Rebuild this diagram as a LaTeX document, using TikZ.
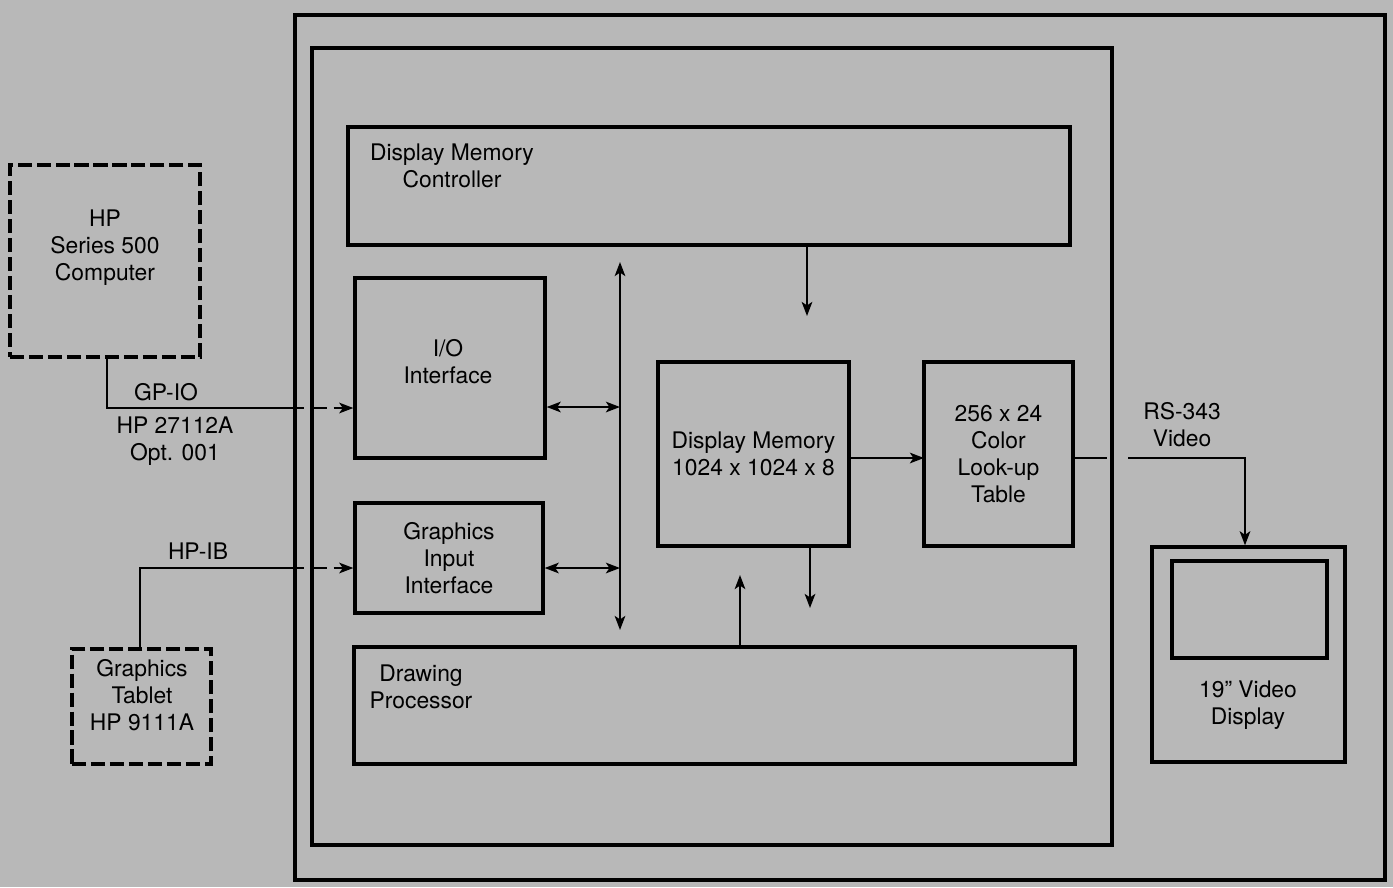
\documentclass[tikz,border=0pt]{standalone}
\usepackage{fontspec}
\setmainfont{TeX Gyre Heros}
\usetikzlibrary{arrows.meta}

\definecolor{paper}{gray}{0.72}
\tikzset{
  blockbox/.style={draw, line width=1.9pt, inner sep=0pt, align=center},
  dashbox/.style={blockbox, dash pattern=on 8pt off 2.8pt},
  lbl/.style={align=center, inner sep=0pt},
  link/.style={line width=1.3pt},
  tip/.style={-{Stealth[length=8pt,width=6pt,inset=2pt]}},
  twotip/.style={{Stealth[length=8pt,width=6pt,inset=2pt]}-{Stealth[length=8pt,width=6pt,inset=2pt]}},
}

\begin{document}
\begin{tikzpicture}[x=0.02cm, y=-0.02cm, font=\fontsize{13}{15.4}\selectfont]
    \fill[paper] (0,0) rectangle (1393,887);
    \useasboundingbox (0,0) rectangle (1393,887);

    % frames of the system
    \draw[line width=1.9pt] (295,15) rectangle (1385,880);
    \draw[line width=1.9pt] (312,48) rectangle (1112,845);

    % blocks inside
    \node[blockbox, minimum width=14.44cm, minimum height=2.36cm] (dmc) at (709,186) {};
    \node[lbl] (dmctext) at (452,166) {Display Memory\\Controller};
    \node[blockbox, minimum width=3.8cm, minimum height=3.6cm] (io) at (450,368) {};
    \node[lbl] (iotext) at (448,362) {I/O\\Interface};
    \node[blockbox, minimum width=3.76cm, minimum height=2.2cm] (gii) at (449,558) {Graphics\\Input\\Interface};
    \node[blockbox, minimum width=3.82cm, minimum height=3.68cm] (dm) at (753.5,454) {Display Memory\\1024 x 1024 x 8};
    \node[blockbox, minimum width=2.98cm, minimum height=3.68cm] (lut) at (998.5,454) {256 x 24\\Color\\Look-up\\Table};
    \node[blockbox, minimum width=14.42cm, minimum height=2.34cm] (dp) at (714.5,705.5) {};
    \node[lbl] (dptext) at (421,687) {Drawing\\Processor};

    % outside devices
    \node[dashbox, minimum width=3.8cm, minimum height=3.84cm] (hp) at (105,261) {};
    \node[lbl] (hptext) at (105,248) {HP\\Series 500\\Computer};
    \node[dashbox, minimum width=2.78cm, minimum height=2.3cm] (tab) at (141.5,706.5) {};
    \node[lbl] (tabtext) at (142,695) {Graphics\\Tablet\\HP 9111A};
    \node[blockbox, minimum width=3.86cm, minimum height=4.3cm] (vid) at (1248.5,654.5) {};
    \node[blockbox, minimum width=3.1cm, minimum height=1.94cm] (scr) at (1249.5,609.5) {};
    \node[lbl] (vidtext) at (1248,705) {19” Video\\Display};

    % bus
    \coordinate (bustop) at (620,262);
    \coordinate (busbot) at (620,630);
    \draw[link, twotip] (busbot) -- (bustop);
    \coordinate (iotap) at (620,407);
    \coordinate (giitap) at (620,568);
    \draw[link, twotip] (iotap -| io.east) -- (iotap);
    \draw[link, twotip] (giitap -| gii.east) -- (giitap);

    % memory paths
    \coordinate (dmcout) at (807,316);
    \draw[link, tip] (dmcout |- dmc.south) -- (dmcout);
    \coordinate (dmout) at (810,608);
    \draw[link, tip] (dmout |- dm.south) -- (dmout);
    \coordinate (dpout) at (740,575);
    \draw[link, tip] (dpout |- dp.north) -- (dpout);
    \coordinate (lutin) at (924,458);
    \draw[link, tip] (lutin -| dm.east) -- (lutin);

    % GP-IO link
    \coordinate (gpcorner) at (107,408);
    \coordinate (gpgap) at (288,408);
    \draw[link] (gpcorner |- hp.south) -- (gpcorner) -- (gpgap);
    \draw[link, tip, dash pattern=on 9pt off 4pt] (gpgap) -- (gpgap -| io.west);
    \node[lbl] (gpio) at (166,392) {GP-IO};
    \node[lbl] (gpopt) at (175,441) {HP 27112A\\Opt. 001};

    % HP-IB link
    \coordinate (ibcorner) at (140,568);
    \coordinate (ibgap) at (288,568);
    \draw[link] (ibcorner |- tab.north) -- (ibcorner) -- (ibgap);
    \draw[link, tip, dash pattern=on 9pt off 4pt] (ibgap) -- (ibgap -| gii.west);
    \node[lbl] (hpib) at (198,551) {HP-IB};

    % video out
    \coordinate (rsa) at (1107,458);
    \coordinate (rsb) at (1128,458);
    \coordinate (rscorner) at (1245,458);
    \draw[link] (rsa -| lut.east) -- (rsa);
    \draw[link, tip] (rsb) -- (rscorner) -- (rscorner |- vid.north);
    \node[lbl] (rs) at (1182,425) {RS-343\\Video};
\end{tikzpicture}
\end{document}
